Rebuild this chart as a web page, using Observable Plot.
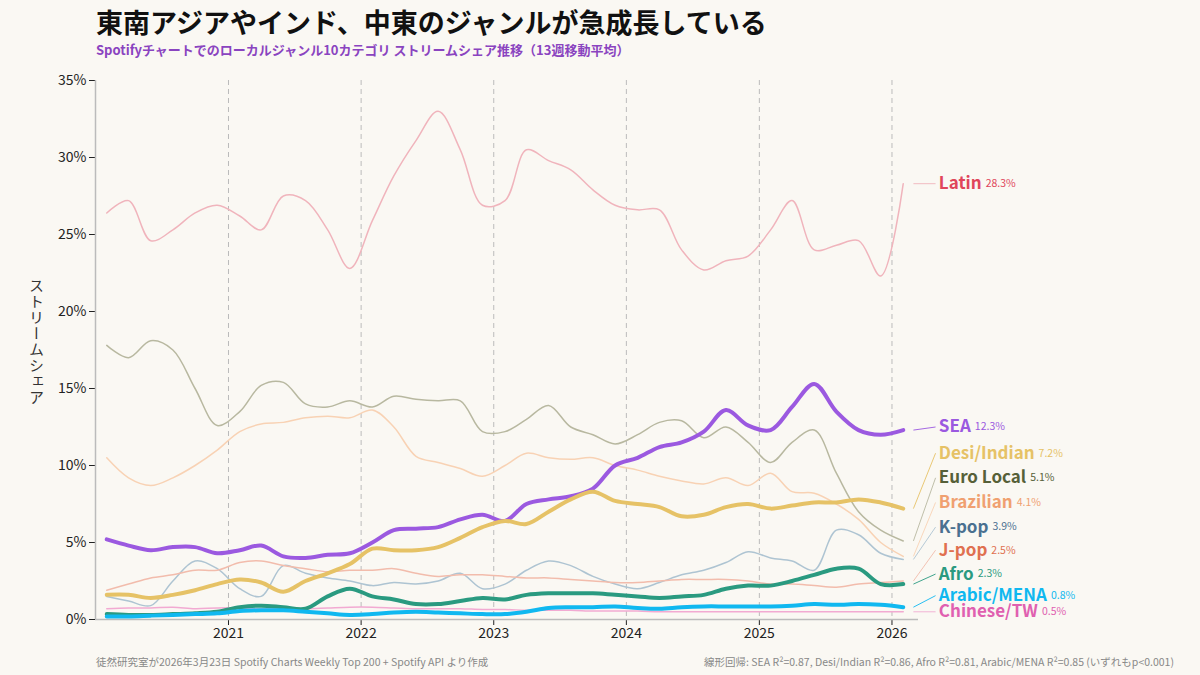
<!DOCTYPE html>
<html><head><meta charset="utf-8">
<script src="https://cdn.jsdelivr.net/npm/d3@7"></script>
<script src="https://cdn.jsdelivr.net/npm/@observablehq/plot@0.6"></script>
<style>
body{margin:0;background:#faf8f3;font-family:"Noto Sans CJK JP","Noto Sans",sans-serif;}
#wrap{position:relative;width:1200px;height:675px;}
h1{position:absolute;left:96px;top:2px;margin:0;font-size:27px;font-weight:700;color:#111;}
#sub{position:absolute;left:96px;top:40px;font-size:13px;font-weight:700;color:#8a44c0;}
#chart{position:absolute;left:0;top:62px;}
#ylab{position:absolute;left:26px;top:278px;writing-mode:vertical-rl;font-size:15px;color:#333;letter-spacing:1px;}
#foot1{position:absolute;left:96px;top:654px;font-size:10.5px;color:#888;}
#foot2{position:absolute;right:26px;top:654px;font-size:10.5px;color:#888;}
</style></head>
<body><div id="wrap">
<h1>東南アジアやインド、中東のジャンルが急成長している</h1>
<div id="sub">Spotifyチャートでのローカルジャンル10カテゴリ ストリームシェア推移（13週移動平均）</div>
<div id="ylab">ストリームシェア</div>
<div id="chart"></div>
<div id="foot1">徒然研究室が2026年3月23日 Spotify Charts Weekly Top 200 + Spotify API より作成</div>
<div id="foot2">線形回帰: SEA R²=0.87, Desi/Indian R²=0.86, Afro R²=0.81, Arabic/MENA R²=0.85 (いずれもp&lt;0.001)</div>
</div>
<script>
// 2か月ごと 2020-02 〜 2026-02
const dates = d3.range(37).map(i => new Date(2020, 1 + i * 2, 1));

const latin = [26.4,27.2,24.6,25.3,26.4,26.9,26.2,25.3,27.5,27.2,25.3,22.8,25.9,28.8,31.1,33.0,30.5,26.9,27.2,30.5,29.8,29.2,27.9,26.9,26.6,26.6,24.0,22.7,23.3,23.6,25.3,27.2,24.0,24.3,24.6,22.3,28.3];
const euro = [17.8,17.0,18.1,17.5,15.0,12.6,13.5,15.2,15.4,14.0,13.8,14.2,13.8,14.5,14.3,14.2,14.2,12.2,12.2,13.0,13.9,12.5,12.0,11.4,12.0,12.8,12.9,11.8,12.5,11.5,10.2,11.5,12.3,9.5,7.0,5.8,5.1];
const brazil = [10.5,9.2,8.7,9.2,10.0,11.0,12.2,12.7,12.8,13.1,13.2,13.1,13.6,12.5,10.6,10.2,9.8,9.3,10.0,10.8,10.5,10.4,10.5,10.0,9.7,9.3,9.0,8.8,9.2,8.7,9.5,8.3,8.2,7.5,6.5,5.0,4.1];
const sea = [5.2,4.8,4.5,4.7,4.7,4.3,4.5,4.8,4.1,4.0,4.2,4.3,5.0,5.8,5.9,6.0,6.5,6.8,6.4,7.5,7.8,8.0,8.5,10.0,10.5,11.2,11.5,12.2,13.6,12.6,12.3,13.8,15.3,13.5,12.3,12.0,12.3];
const desi = [1.6,1.6,1.4,1.6,1.9,2.3,2.6,2.4,1.8,2.5,3.0,3.6,4.6,4.5,4.5,4.7,5.3,6.0,6.4,6.2,7.0,7.8,8.3,7.7,7.5,7.3,6.7,6.8,7.3,7.5,7.2,7.4,7.6,7.6,7.8,7.6,7.2];
const kpop = [1.5,1.2,0.9,2.5,3.8,3.3,2.0,1.5,3.5,3.0,2.7,2.5,2.2,2.4,2.3,2.5,3.0,2.0,2.3,3.2,3.8,3.5,2.8,2.3,2.0,2.4,2.9,3.2,3.7,4.4,4.0,3.8,3.2,5.8,5.5,4.3,3.9];
const jpop = [1.9,2.3,2.7,2.9,3.2,3.2,3.7,3.8,3.5,3.3,3.1,3.2,3.2,3.3,3.0,2.8,2.9,2.9,2.8,2.7,2.7,2.6,2.5,2.4,2.4,2.5,2.6,2.6,2.6,2.5,2.3,2.3,2.2,2.1,2.3,2.4,2.5];
const afro = [0.35,0.3,0.3,0.35,0.4,0.5,0.8,0.9,0.8,0.7,1.5,2.0,1.5,1.3,1.0,1.0,1.2,1.4,1.3,1.6,1.7,1.7,1.7,1.6,1.5,1.4,1.5,1.6,2.0,2.2,2.2,2.5,2.9,3.3,3.3,2.3,2.3];
const arabic = [0.2,0.2,0.25,0.3,0.35,0.4,0.55,0.6,0.6,0.5,0.4,0.3,0.35,0.45,0.5,0.45,0.4,0.35,0.35,0.5,0.75,0.8,0.8,0.85,0.75,0.7,0.8,0.85,0.85,0.85,0.85,0.9,1.0,0.95,1.0,0.95,0.8];
const chinese = [0.7,0.75,0.75,0.8,0.7,0.75,0.75,0.7,0.7,0.7,0.75,0.8,0.8,0.75,0.7,0.7,0.7,0.65,0.65,0.6,0.6,0.6,0.55,0.55,0.55,0.5,0.5,0.5,0.5,0.5,0.5,0.5,0.5,0.5,0.5,0.5,0.5];

const names = ["Latin","Euro Local","Brazilian","K-pop","J-pop","Chinese/TW","SEA","Desi/Indian","Afro","Arabic/MENA"];
const values = [latin,euro,brazil,kpop,jpop,chinese,sea,desi,afro,arabic];
const lineColors = ["#f0b4bc","#b8b8a0","#f8d2b4","#aec4d2","#f2bcac","#f2aad2","#9b59e0","#e6c266","#2a9a80","#10b8f0"];
const labelColors = ["#e0455a","#566038","#f0a070","#4a7090","#e07050","#e060b0","#9b59e0","#e6c266","#2a9a80","#10b8f0"];
const widths = [1.5,1.5,1.5,1.5,1.5,1.5,4,4,4,4];
const labelY = [28.3,9.2,7.6,6.0,4.5,0.5,12.5,10.8,2.95,1.55];

const rows = names.flatMap((n, k) => values[k].map((v, i) => ({name: n, date: dates[i], v})));
const labelDate = new Date(2026, 4, 10);
const labels = names.map((n, k) => ({name: n, k, last: values[k][values[k].length - 1], ly: labelY[k]}));

const marks = [
  Plot.ruleX(d3.range(2021, 2027).map(y => new Date(y, 0, 1)), {stroke: "#bbb", strokeDasharray: "5,4"}),
  Plot.ruleY([0], {stroke: "#bbb", strokeWidth: 1.5}),
  Plot.link(labels, {x1: () => new Date(2026, 2, 1), y1: "last", x2: () => new Date(2026, 4, 1), y2: "ly",
    stroke: (d) => lineColors[d.k], strokeWidth: 0.9}),
];
names.forEach((n, k) => {
  marks.push(Plot.line(rows.filter(r => r.name === n), {x: "date", y: "v", stroke: lineColors[k], strokeWidth: widths[k], curve: "catmull-rom"}));
});
marks.push(
  Plot.text(labels, {x: () => labelDate, y: "ly", text: "name", fill: (d) => labelColors[d.k], textAnchor: "start", fontSize: 17, fontWeight: 700}),
  Plot.text(labels, {x: () => labelDate, y: "ly", text: (d) => d.last.toFixed(1) + "%", fill: (d) => labelColors[d.k], textAnchor: "start", fontSize: 10.5})
);

const chart = Plot.plot({
  width: 1200, height: 590,
  marginLeft: 95, marginRight: 282, marginTop: 18, marginBottom: 33,
  style: {background: "transparent", fontSize: "14px", fontFamily: "Noto Sans CJK JP, Noto Sans, sans-serif", color: "#222"},
  x: {type: "time", domain: [new Date(2020, 0, 1), new Date(2026, 2, 15)], ticks: d3.range(2021, 2027).map(y => new Date(y, 0, 1)), tickFormat: d3.timeFormat("%Y"), label: null, tickSize: 6},
  y: {domain: [0, 35], ticks: d3.range(0, 36, 5), tickFormat: d => d + "%", label: null, tickSize: 6},
  marks: [...marks, Plot.axisY({ticks: d3.range(0, 36, 5), tickFormat: d => d + "%", label: null}), Plot.ruleX([new Date(2020,0,1)], {stroke:"#bbb", strokeWidth:1.5})]
});
document.getElementById("chart").append(chart);

// 数値ラベルを名前ラベルの右に移動
const texts = chart.querySelectorAll("g[aria-label=text]");
if (texts.length >= 2) {
  const nameT = texts[0].querySelectorAll("text"), valT = texts[1].querySelectorAll("text");
  valT.forEach((t, i) => {
    const w = nameT[i].getComputedTextLength();
    t.setAttribute("dx", w + 4);
  });
}
</script></body></html>
